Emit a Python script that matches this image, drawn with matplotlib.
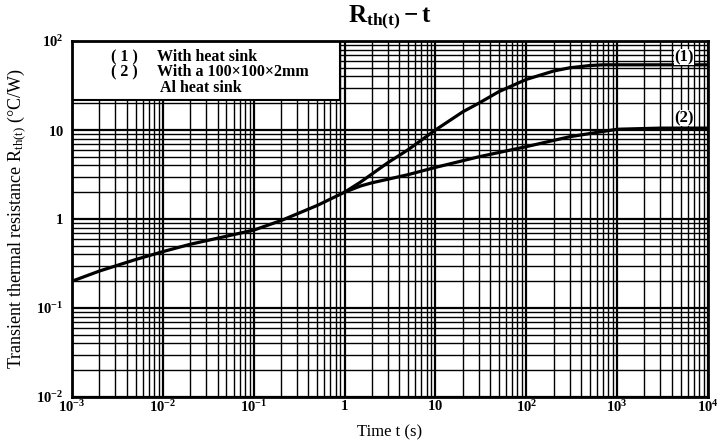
import numpy as np
import matplotlib
matplotlib.use("Agg")
import matplotlib.pyplot as plt
from matplotlib.patches import Rectangle

plt.rcParams['font.family'] = ['Liberation Serif', 'DejaVu Serif']
plt.rcParams['mathtext.fontset'] = 'custom'
plt.rcParams['mathtext.rm'] = 'Liberation Serif'
plt.rcParams['mathtext.bf'] = 'Liberation Serif:bold'
plt.rcParams['mathtext.it'] = 'Liberation Serif:italic'

# Shared part of both curves
t_common = [0.001, 0.002, 0.005, 0.01, 0.02, 0.05, 0.1, 0.2, 0.5, 1.0]
r_common = [0.20, 0.26, 0.35, 0.43, 0.52, 0.64, 0.75, 0.96, 1.42, 2.0]

# Curve (1): with heat sink
t_1 = [1.0, 1.5, 2, 3, 5, 10, 20, 30, 50, 100, 200, 300, 500, 700, 1000, 2000, 5000, 10000]
r_1 = [2.0, 2.6, 3.2, 4.3, 6.0, 10.0, 16.0, 20.0, 27.0, 37.0, 46.0, 50.0, 53.0, 54.0, 54.0, 54.0, 54.0, 54.0]

# Curve (2): with a 100x100x2mm Al heat sink
t_2 = [1.0, 1.5, 2, 5, 10, 30, 100, 300, 1000, 3000, 10000]
r_2 = [2.0, 2.35, 2.55, 3.15, 3.8, 5.0, 6.5, 8.4, 10.2, 10.5, 10.5]

x_ticks = [1e-3, 1e-2, 1e-1, 1, 10, 1e2, 1e3, 1e4]
x_labels = [r'$\mathbf{10^{-3}}$', r'$\mathbf{10^{-2}}$', r'$\mathbf{10^{-1}}$', r'$\mathbf{1}$',
            r'$\mathbf{10}$', r'$\mathbf{10^{2}}$', r'$\mathbf{10^{3}}$', r'$\mathbf{10^{4}}$']
y_ticks = [1e-2, 1e-1, 1, 10, 1e2]
y_labels = [r'$\mathbf{10^{-2}}$', r'$\mathbf{10^{-1}}$', r'$\mathbf{1}$', r'$\mathbf{10}$', r'$\mathbf{10^{2}}$']

legend_lines = [("( 1 )", "With heat sink"), ("( 2 )", "With a 100×100×2mm"), ("", "Al heat sink")]

fig = plt.figure(figsize=(7.25, 4.42), dpi=100)
ax = fig.add_axes([72/725, 1-397/442, 636/725, 356/442])
ax.set_xscale('log')
ax.set_yscale('log')
ax.set_xlim(1e-3, 1e4)
ax.set_ylim(1e-2, 1e2)

ax.grid(True, which='major', color='black', linewidth=1.6, zorder=1)
ax.grid(True, which='minor', color='black', linewidth=1.0, zorder=1)
ax.set_axisbelow(True)
ax.xaxis.set_minor_locator(matplotlib.ticker.LogLocator(base=10, subs=np.arange(2, 10)))
ax.yaxis.set_minor_locator(matplotlib.ticker.LogLocator(base=10, subs=np.arange(2, 10)))
ax.xaxis.set_minor_formatter(matplotlib.ticker.NullFormatter())
ax.yaxis.set_minor_formatter(matplotlib.ticker.NullFormatter())
ax.set_xticks(x_ticks)
ax.set_xticklabels(x_labels, fontsize=10.5)
ax.set_yticks(y_ticks)
ax.set_yticklabels(y_labels, fontsize=10.5)
ax.tick_params(axis='x', which='both', length=0, pad=1.5)
ax.tick_params(axis='y', which='both', length=0, pad=6)
for s in ax.spines.values():
    s.set_linewidth(2.0)
    s.set_zorder(6)

ax.plot(t_common, r_common, color='black', lw=2.3, zorder=4, solid_capstyle='round')
ax.plot(t_1, r_1, color='black', lw=2.3, zorder=4, solid_capstyle='round')
ax.plot(t_2, r_2, color='black', lw=2.3, zorder=4, solid_capstyle='round')

# Legend box
ax.add_patch(Rectangle((0, (397-100)/356), (340-72)/636, 1-(397-100)/356,
                       transform=ax.transAxes, facecolor='white', edgecolor='black',
                       lw=1.5, zorder=5))
ys = [57, 72, 88]
for (num, txt), yp in zip(legend_lines, ys):
    yy = (397-yp)/356
    if num:
        ax.text((111-72)/636, yy, num, transform=ax.transAxes, fontsize=11.5,
                fontweight='bold', va='center', ha='left', zorder=6)
    xx = (157-72)/636 if num else (160-72)/636
    ax.text(xx, yy, txt, transform=ax.transAxes, fontsize=11.5,
            fontweight='bold', va='center', ha='left', zorder=6)

# Curve labels
ax.text((684-72)/636, (397-57)/356, "(1)", transform=ax.transAxes, fontsize=12,
        fontweight='bold', ha='center', va='center', zorder=6,
        bbox=dict(facecolor='white', edgecolor='none', pad=0.3))
ax.text((684-72)/636, (397-118)/356, "(2)", transform=ax.transAxes, fontsize=12,
        fontweight='bold', ha='center', va='center', zorder=6,
        bbox=dict(facecolor='white', edgecolor='none', pad=0.3))

fig.text(390/725, 1-17/442, r'$\mathbf{R_{th(t)}-t}$', fontsize=18, ha='center', va='center')
fig.text(390/725, 1-432/442, 'Time t (s)', fontsize=12, ha='center', va='center')
ax.set_ylabel(r'Transient thermal resistance R$_{\mathrm{th(t)}}$ (°C/W)', fontsize=13, labelpad=6)

fig.savefig('out.png', dpi=100)
